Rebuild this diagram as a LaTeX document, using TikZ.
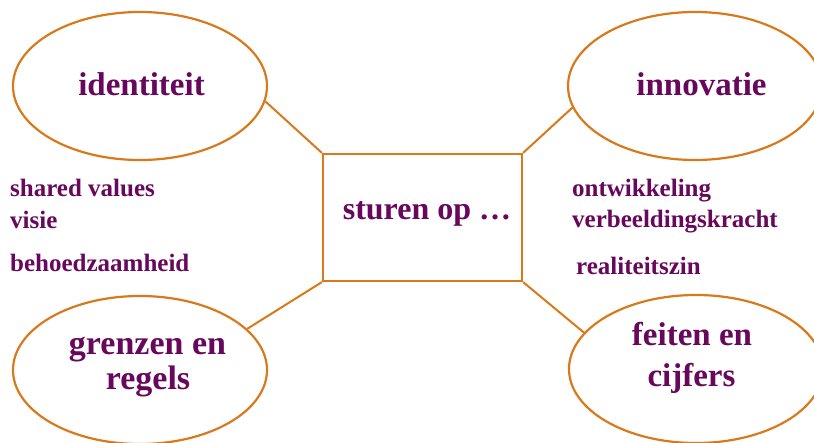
\documentclass[tikz,border=0pt]{standalone}
\usepackage{fontspec}
\setmainfont{Liberation Serif}
\usetikzlibrary{shapes.geometric}
\definecolor{plum}{RGB}{104,8,92}
\definecolor{ochre}{RGB}{216,122,28}
\tikzset{
  blob/.style={draw=ochre, line width=2.2pt, ellipse, minimum width=254pt, minimum height=148pt, inner sep=0pt},
  hub/.style={draw=ochre, line width=2.2pt, rectangle, minimum width=199pt, minimum height=127pt, inner sep=0pt},
  link/.style={draw=ochre, line width=2pt},
  bigtxt/.style={text=plum, font=\bfseries\fontsize{33}{38}\selectfont, align=center, inner sep=0pt, anchor=base},
  note/.style={text=plum, font=\bfseries\fontsize{25}{30}\selectfont, anchor=base west, inner sep=0pt},
}
\begin{document}
\begin{tikzpicture}[x=1pt, y=-1pt]
\useasboundingbox (0,0) rectangle (814,443);
\clip (0,0) rectangle (814,443);
\fill[white] (0,0) rectangle (814,443);

% central box and the four themes
\node[hub]  (box) at (422.5,217.5) {};
\node[blob] (id)  at (140,86) {};
\node[blob] (inn) at (695,86) {};
\node[blob] (gr)  at (140,370) {};
\node[blob] (fe)  at (696,369) {};

% connectors
\draw[link] (box.north west) -- (id.-7);
\draw[link] (box.north east) -- (inn.190);
\draw[link] (box.south west) -- (gr.21);
\draw[link] (box.south east) -- (fe.162);

% titles
\node[bigtxt] (tid)  at (141.5,96) {identiteit};
\node[bigtxt] (tinn) at (701.5,96) {innovatie};
\node[bigtxt, font=\bfseries\fontsize{32}{38}\selectfont] (tbox) at (427,220) {sturen op …};
\node[bigtxt, font=\bfseries\fontsize{34}{38}\selectfont] (tgr1) at (147.5,355) {grenzen en};
\node[bigtxt, font=\bfseries\fontsize{34}{38}\selectfont] (tgr2) at (148,390) {regels};
\node[bigtxt] (tfe1) at (692,346) {feiten en};
\node[bigtxt] (tfe2) at (691.5,387) {cijfers};

% side notes
\node[note] (n1) at (10,197) {shared values};
\node[note] (n2) at (10,229) {visie};
\node[note] (n3) at (10,272) {behoedzaamheid};
\node[note] (n4) at (572,197) {ontwikkeling};
\node[note] (n5) at (572,228) {verbeeldingskracht};
\node[note] (n6) at (576,275) {realiteitszin};
\end{tikzpicture}
\end{document}
